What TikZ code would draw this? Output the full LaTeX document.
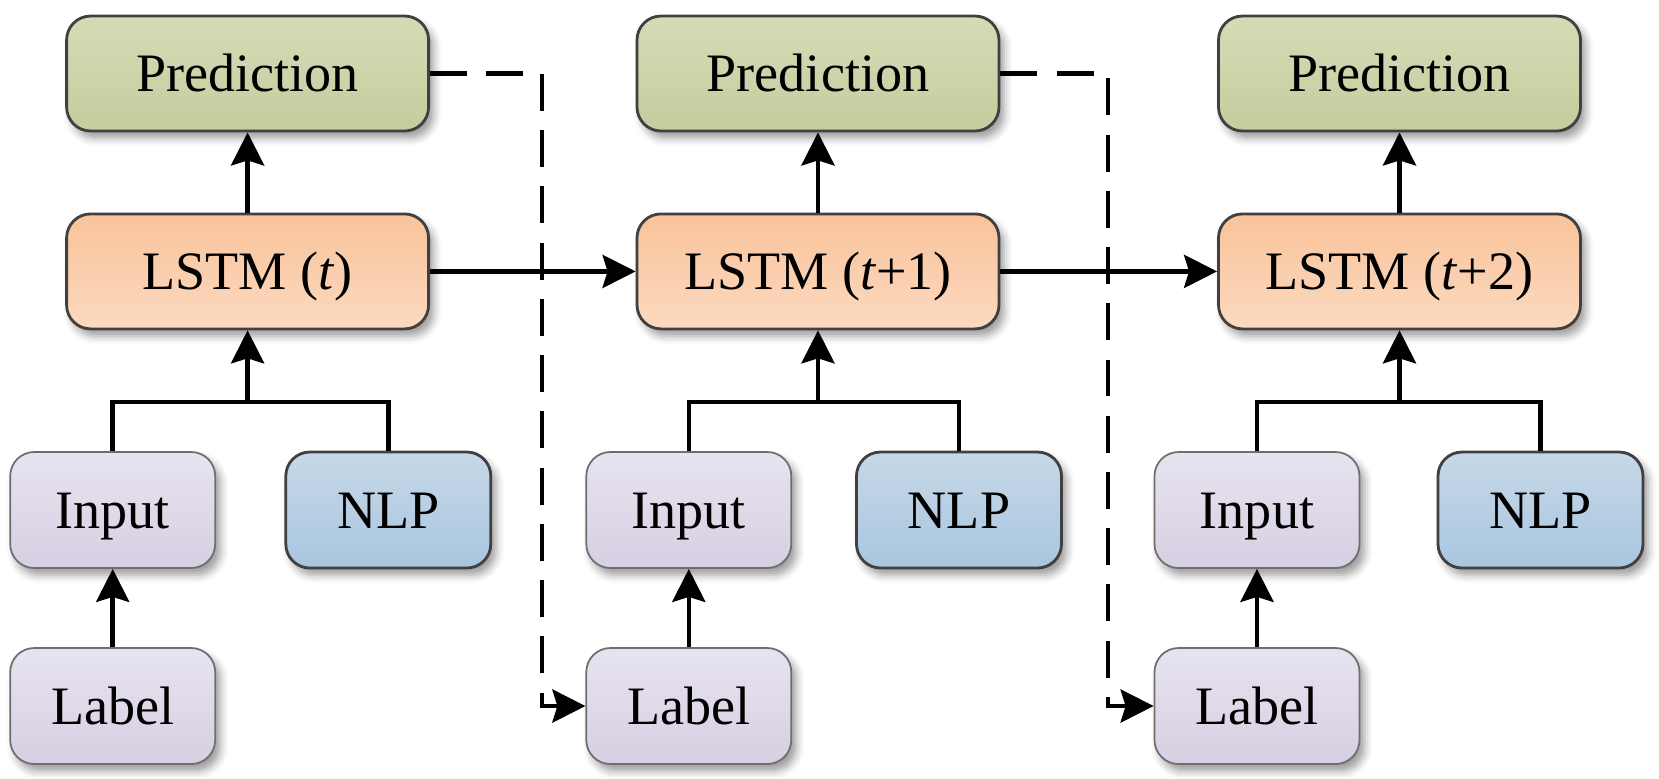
\documentclass[tikz,border=0pt]{standalone}
\usepackage{fontspec}
\setmainfont{Liberation Serif}
\usetikzlibrary{arrows.meta,shadows.blur}

\definecolor{predtop}{HTML}{D4DCB7}
\definecolor{predbot}{HTML}{C4CD9D}
\definecolor{lstmtop}{HTML}{F8C39A}
\definecolor{lstmbot}{HTML}{FCD9C0}
\definecolor{intop}{HTML}{E7E3EF}
\definecolor{inbot}{HTML}{D7CFE2}
\definecolor{nlptop}{HTML}{C6D8E8}
\definecolor{nlpbot}{HTML}{A9C6DF}
\definecolor{boxline}{HTML}{404040}
\definecolor{inline}{HTML}{6E6E6E}

\tikzset{
	box/.style={rounded corners=0.24cm, minimum width=3.62cm, minimum height=1.15cm,
		line width=0.8pt, draw=boxline, inner sep=0pt, text height=0.36cm, text depth=0pt,
		blur shadow={shadow xshift=0.05cm, shadow yshift=-0.07cm, shadow blur radius=0.08cm, shadow opacity=40},
		font=\fontsize{15.4}{18}\selectfont},
	predbox/.style={box, top color=predtop, bottom color=predbot},
	lstmbox/.style={box, top color=lstmtop, bottom color=lstmbot},
	smallbox/.style={box, minimum width=2.05cm, minimum height=1.16cm},
	inbox/.style={smallbox, draw=inline, line width=0.5pt, top color=intop, bottom color=inbot},
	nlpbox/.style={smallbox, top color=nlptop, bottom color=nlpbot},
	wire/.style={line width=1.3pt},
	link/.style={wire, -{Stealth[length=3.3mm, width=3.3mm, inset=0.5mm]}},
	feed/.style={link, dash pattern=on 10.5pt off 5.5pt},
}

\begin{document}
\begin{tikzpicture}
	\useasboundingbox (0,0) rectangle (16.59,-7.78);

	% predictions
	\node[predbox] (pred1) at (2.476,-0.735) {Prediction};
	\node[predbox] (pred2) at (8.18,-0.735) {Prediction};
	\node[predbox] (pred3) at (13.995,-0.735) {Prediction};

	% lstm cells
	\node[lstmbox] (lstm1) at (2.476,-2.714) {LSTM (\textit{t})};
	\node[lstmbox] (lstm2) at (8.18,-2.714) {LSTM (\textit{t}+1)};
	\node[lstmbox] (lstm3) at (13.995,-2.714) {LSTM (\textit{t}+2)};

	% inputs
	\node[inbox] (input1) at (1.127,-5.10) {Input};
	\node[inbox] (input2) at (6.888,-5.10) {Input};
	\node[inbox] (input3) at (12.57,-5.10) {Input};
	\node[nlpbox] (nlp1) at (3.883,-5.10) {NLP};
	\node[nlpbox] (nlp2) at (9.59,-5.10) {NLP};
	\node[nlpbox] (nlp3) at (15.405,-5.10) {NLP};
	\node[inbox] (label1) at (1.127,-7.06) {Label};
	\node[inbox] (label2) at (6.888,-7.06) {Label};
	\node[inbox] (label3) at (12.57,-7.06) {Label};

	% branch points
	\coordinate (b1) at (2.476,-4.02);
	\coordinate (b2) at (8.18,-4.02);
	\coordinate (b3) at (13.995,-4.02);
	\coordinate (d1) at (5.42,-0.735);
	\coordinate (d2) at (11.08,-0.735);

	\draw[wire] (input1.north) |- (b1) -| (nlp1.north);
	\draw[wire] (input2.north) |- (b2) -| (nlp2.north);
	\draw[wire] (input3.north) |- (b3) -| (nlp3.north);
	\draw[link] (b1) -- (lstm1.south);
	\draw[link] (b2) -- (lstm2.south);
	\draw[link] (b3) -- (lstm3.south);

	\draw[link] (lstm1) -- (pred1);
	\draw[link] (lstm2) -- (pred2);
	\draw[link] (lstm3) -- (pred3);
	\draw[link] (label1) -- (input1);
	\draw[link] (label2) -- (input2);
	\draw[link] (label3) -- (input3);

	\draw[link] (lstm1) -- (lstm2);
	\draw[link] (lstm2) -- (lstm3);

	% feedback of the prediction
	\draw[feed] (pred1.east) -- (d1) |- (label2.west);
	\draw[feed] (pred2.east) -- (d2) |- (label3.west);
\end{tikzpicture}
\end{document}
